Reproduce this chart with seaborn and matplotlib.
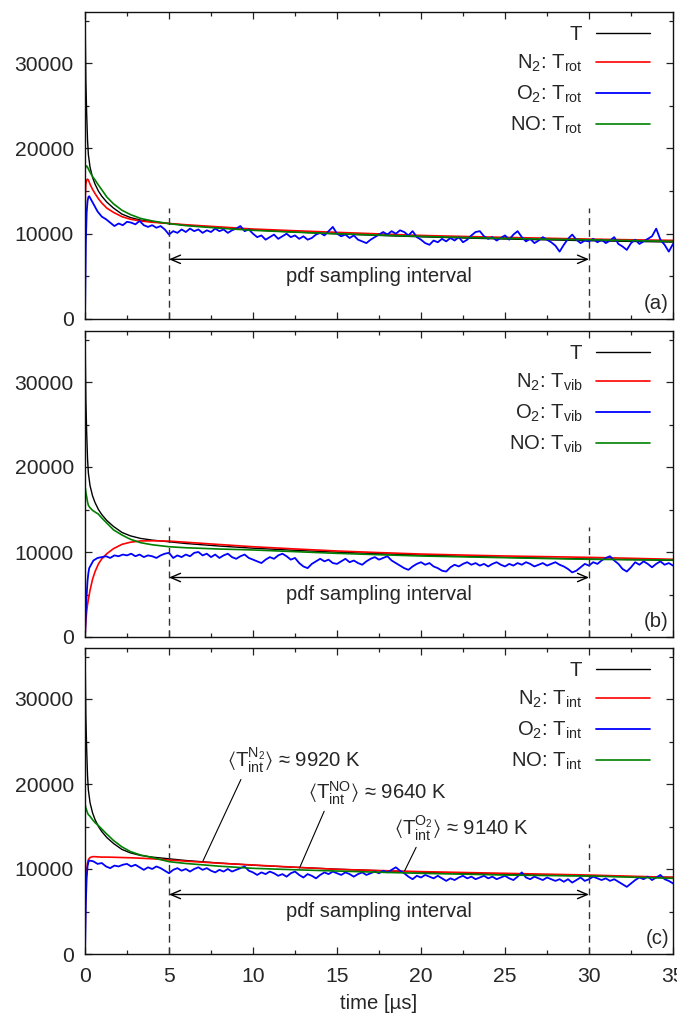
import numpy as np
import matplotlib
matplotlib.use("Agg")
import matplotlib.pyplot as plt
import seaborn as sns

# ---------------------------------------------------------------- data
# smooth curves share one time grid [µs]
t_smooth = [0, 0.02, 0.05, 0.1, 0.15, 0.2, 0.3, 0.45, 0.6, 0.8, 1.0, 1.3, 1.7,
            2.2, 2.7, 3.3, 4, 5, 6, 8, 10, 12.5, 15, 17.5, 20, 22.5, 25, 27.5,
            30, 32.5, 35]

T_total = [40000, 33000, 28000, 24000, 21000, 19300, 17800, 16600, 15800, 15000,
           14400, 13700, 13000, 12300, 11900, 11600, 11400, 11200, 11000, 10700,
           10450, 10200, 9980, 9800, 9640, 9500, 9380, 9280, 9180, 9100, 9020]

n2_rot = [0, 14500, 15800, 16300, 16400, 16300, 15800, 15200, 14700, 14100,
          13600, 13000, 12500, 12000, 11700, 11500, 11350, 11200, 11050, 10800,
          10550, 10350, 10160, 9980, 9800, 9680, 9570, 9470, 9370, 9290, 9220]
no_rot = [17500, 17700, 17900, 17950, 17800, 17600, 17200, 16700, 16300, 15700,
          15150, 14300, 13500, 12750, 12250, 11800, 11500, 11180, 10950, 10650,
          10400, 10180, 10000, 9840, 9690, 9560, 9450, 9360, 9290, 9200, 9100]

n2_vib = [0, 800, 1800, 3000, 3800, 4400, 5500, 6800, 7700, 8600,
          9200, 9800, 10400, 10900, 11150, 11300, 11320, 11280, 11150, 10880,
          10620, 10360, 10120, 9930, 9760, 9640, 9530, 9450, 9370, 9260, 9140]
no_vib = [17700, 17500, 17000, 16500, 15900, 15500, 15200, 14900, 14700, 14450,
          14000, 13400, 12600, 12000, 11500, 11100, 10850, 10620, 10500, 10350,
          10240, 10040, 9840, 9680, 9530, 9430, 9330, 9230, 9140, 9100, 9060]

n2_int = [0, 5000, 8000, 9800, 10700, 11100, 11350, 11450, 11450, 11420,
          11400, 11400, 11380, 11350, 11320, 11270, 11200, 11060, 10920, 10680,
          10470, 10210, 9960, 9820, 9690, 9590, 9490, 9390, 9290, 9150, 9020]
no_int = [17700, 17500, 17200, 16900, 16600, 16400, 16200, 15800, 15450, 15100,
          14700, 14100, 13350, 12600, 12050, 11650, 11350, 10860, 10650, 10330,
          10080, 9910, 9760, 9620, 9490, 9390, 9290, 9230, 9180, 9040, 8900]

# O2 is noisy: sampled every 0.25 µs after a short start-up
t_noisy = [0, 0.05, 0.1, 0.15, 0.2, 0.25] + list(np.arange(0.5, 35.01, 0.25))

o2_rot = [0, 9000, 12500, 13800, 14300, 14400,
          13500, 12600,
          12000, 11700, 11300, 10900,  11200, 11000, 11400, 11300,
          11100, 11500, 11000, 10800,  11000, 10700, 10900, 10500,
          9900, 10300, 10100, 10500,   10200, 10600, 10300, 10500,
          10100, 10400, 10200, 10600,  10300, 10500, 10100, 10400,
          10600, 10900, 10300, 10500,  10000, 9600, 9800, 9300,
          9600, 9900, 9400, 9700,      10000, 9600, 9800, 9400,
          9700, 9300, 9500, 9900,      10100, 9800, 10300, 10800,
          10000, 9700, 9900, 9500,     9800, 9300, 9100, 8900,
          9300, 9600, 9900, 10200,     9900, 10300, 10000, 10400,
          10200, 9800, 10300, 9600,    9300, 8900, 8700, 9200,
          9000, 9400, 9100, 9500,      9200, 9600, 9000, 9300,
          9800, 10200, 10300, 9700,    9400, 9600, 9200, 9500,
          9800, 9300, 9900, 10300,     9600, 9100, 9400, 8900,
          9200, 9600, 9300, 9000,      8600, 7900, 8700, 9400,
          9900, 9300, 8900, 9200,      9100, 9400, 9000, 9300,
          8900, 9200, 9600, 8800,      8500, 8100, 8900, 9300,
          8800, 9100, 9400, 9700,      10600, 9300, 8700, 7900,
          8800]

o2_vib = [0, 2800, 5000, 6600, 7500, 8100,
          9000, 9300,
          9400, 9500, 9300, 9600,      9500, 9700, 9600, 9800,
          9500, 9700, 9400, 9600,      9500, 9300, 9600, 9800,
          9900, 9300, 9600, 9400,      9700, 9500, 9900, 10000,
          9600, 9800, 9400, 9700,      9300, 9600, 9800, 9400,
          9200, 9500, 9700, 9300,      9100, 8900, 8700, 9100,
          9400, 9200, 9600, 9800,      9500, 9100, 9300, 8700,
          8300, 8100, 8600, 8900,      9200, 8900, 9100, 8700,
          8600, 8900, 9200, 8800,      9000, 8700, 8500, 8900,
          9200, 9400, 9100, 9300,      9500, 9000, 8700, 8400,
          8100, 7900, 8300, 8600,      8800, 8500, 8700, 8300,
          8100, 7800, 7700, 8200,      8500, 8300, 8600, 8800,
          8500, 8700, 8400, 8600,      8300, 8600, 8800, 8500,
          8300, 8600, 8400, 8700,      8500, 8800, 8600, 8300,
          8500, 8700, 8400, 8600,      8800, 8500, 8300, 8000,
          7600, 7800, 8200, 8600,      8400, 8800, 8600, 9000,
          9300, 9500, 9000, 8600,      8000, 7700, 8200, 8800,
          8500, 8900, 8600, 8200,      8600, 8900, 8500, 8700,
          8400]

o2_int = [0, 6000, 9000, 10300, 10800, 11000,
          10900, 10600,
          10700, 10300, 10100, 10400,  10300, 10500, 10600, 10300,
          10500, 10200, 9900, 10200,   10000, 10300, 10100, 9800,
          9500, 9900, 10100, 9800,     10000, 9700, 10000, 10200,
          9900, 10100, 9800, 9600,     9900, 9700, 10000, 9700,
          9900, 10100, 10300, 9800,    9600, 9300, 9600, 9400,
          9700, 9500, 9200, 9400,      9100, 9500, 9700, 9300,
          9000, 9400, 9200, 8900,      9300, 9600, 9400, 9700,
          9500, 9300, 9600, 9400,      9100, 9400, 9600, 9300,
          9500, 9700, 9500, 9800,      9600, 9900, 10200, 9800,
          9500, 9100, 8800, 9200,      9000, 9300, 9100, 8900,
          9200, 8900, 8600, 8900,      8700, 9000, 9200, 8900,
          9100, 8800, 9000, 9200,      8900, 9100, 8800, 9000,
          9200, 8900, 8700, 9100,      9600, 9000, 8800, 9100,
          8900, 8700, 9000, 8800,      8600, 8800, 8500, 8800,
          8400, 8700, 9000, 8600,      8800, 9100, 8900, 8700,
          8900, 8600, 8800, 8500,      8200, 7900, 8300, 8700,
          9000, 8800, 9100, 8700,      9000, 9300, 8800, 8600,
          8300]

panel_tags = ["(a)", "(b)", "(c)"]
mode_names = ["rot", "vib", "int"]
species = ["N$_2$", "O$_2$", "NO"]
panel_series = [(n2_rot, o2_rot, no_rot),
                (n2_vib, o2_vib, no_vib),
                (n2_int, o2_int, no_int)]

window_start, window_end = 5, 30
mean_labels = [r"$\langle T^{N_2}_{int}\rangle$ ≈ 9920 K",
               r"$\langle T^{NO}_{int}\rangle$ ≈ 9640 K",
               r"$\langle T^{O_2}_{int}\rangle$ ≈ 9140 K"]
mean_text_xy = [(8.45, 22800), (13.28, 18940), (18.4, 14820)]
mean_point_xy = [(7.02, 10940), (12.77, 10120), (19.03, 9800)]
mean_relpos = [0.12, 0.13, 0.18]

# ---------------------------------------------------------------- style
sns.set_style("ticks")
plt.rcParams["font.family"] = ["Liberation Sans", "DejaVu Sans"]
plt.rcParams["mathtext.fontset"] = "custom"
plt.rcParams["mathtext.rm"] = "Liberation Sans"
plt.rcParams["mathtext.it"] = "Liberation Sans:italic"
plt.rcParams["mathtext.bf"] = "Liberation Sans:bold"
plt.rcParams["mathtext.sf"] = "Liberation Sans"
plt.rcParams["mathtext.default"] = "regular"

FS = 14.6
FS_TICK = 15.2
colors = {"T": "#000000", "N2": "#ff0000", "O2": "#0000ff", "NO": "#008000"}

W, H = 677, 1017
fig = plt.figure(figsize=(W / 100, H / 100), dpi=100)

left, right = 85, 673
panel_px = [(12, 319), (331, 637), (648, 954)]

for k, (top, bot) in enumerate(panel_px):
    ax = fig.add_axes([left / W, 1 - bot / H, (right - left) / W, (bot - top) / H])
    n2, o2, no = panel_series[k]
    m = mode_names[k]

    sns.lineplot(x=t_smooth, y=T_total, ax=ax, color=colors["T"], lw=1.0,
                 estimator=None, label="T")
    sns.lineplot(x=t_smooth, y=n2, ax=ax, color=colors["N2"], lw=1.2,
                 estimator=None, label=f"{species[0]}: T$_{{{m}}}$")
    sns.lineplot(x=t_noisy, y=o2, ax=ax, color=colors["O2"], lw=1.3,
                 estimator=None, label=f"{species[1]}: T$_{{{m}}}$")
    sns.lineplot(x=t_smooth, y=no, ax=ax, color=colors["NO"], lw=1.2,
                 estimator=None, label=f"{species[2]}: T$_{{{m}}}$")

    ax.set_xlim(0, 35)
    ax.set_ylim(0, 36000)
    ax.set_xticks(np.arange(0, 36, 5))
    ax.set_xticks(np.arange(2.5, 35, 5), minor=True)
    ax.set_yticks([0, 10000, 20000, 30000])
    ax.set_yticks([5000, 15000, 25000, 35000], minor=True)
    ax.tick_params(which="both", direction="in", top=True, right=True,
                   labelsize=FS_TICK, width=0.9, color="#222222")
    ax.tick_params(which="major", length=5, pad=8)
    ax.tick_params(which="minor", length=3)
    ax.tick_params(axis="x", pad=9)
    for s in ax.spines.values():
        s.set_linewidth(1.0)
        s.set_color("#111111")
    if k < 2:
        ax.tick_params(labelbottom=False)
    ax.set_xlabel("")
    ax.set_ylabel("")

    # sampling window
    ax.vlines([window_start, window_end], 0, 13000, colors="#333333", lw=1.0,
              linestyles=(0, (5, 3.5)))
    ax.annotate("", xy=(window_start, 7000), xytext=(window_end, 7000),
                arrowprops=dict(arrowstyle="<->,head_length=0.7,head_width=0.3",
                                lw=1.0, color="black", shrinkA=0, shrinkB=0))
    ax.text((window_start + window_end) / 2, 5000, "pdf sampling interval",
            ha="center", va="center", fontsize=FS)
    ax.text(0.993, 0.051, panel_tags[k], transform=ax.transAxes,
            ha="right", va="center", fontsize=FS)

    leg = ax.legend(loc="upper right", bbox_to_anchor=(1 - 8 / 588, 1 + 2 / 307),
                    frameon=False, markerfirst=False,
                    fontsize=FS, handlelength=2.7, handletextpad=0.65,
                    labelspacing=0.47, borderaxespad=0.6, borderpad=0.12)

    if k == 2:
        for lab, txy, pxy, rp in zip(mean_labels, mean_text_xy, mean_point_xy,
                                     mean_relpos):
            ax.annotate(lab, xy=pxy, xytext=txy, ha="left", va="center",
                        fontsize=FS,
                        arrowprops=dict(arrowstyle="-", lw=0.8, color="black",
                                        relpos=(rp, 0.0), shrinkA=1, shrinkB=0))
        ax.set_xlabel("time [µs]", fontsize=FS, labelpad=6)

fig.savefig("out.png", dpi=100)
